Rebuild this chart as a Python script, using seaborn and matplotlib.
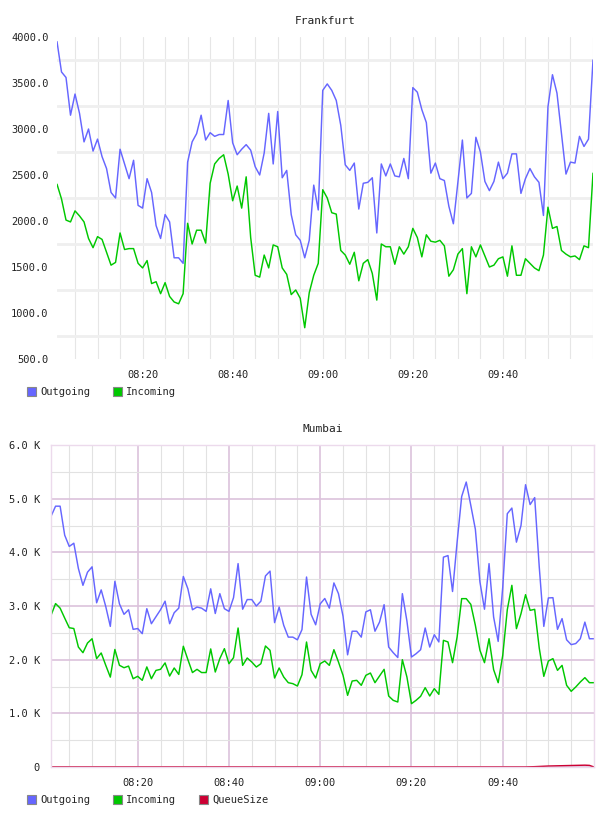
import numpy as np
import pandas as pd
import matplotlib
matplotlib.use("Agg")
import matplotlib.pyplot as plt
import matplotlib.dates as mdates
from matplotlib.patches import Patch
from matplotlib.ticker import FixedLocator, FuncFormatter
import seaborn as sns

# datos (1 punto por minuto, 08:01 - 10:00)
tiempos = pd.date_range("2024-01-01 08:01", periods=120, freq="1min")
etiquetas_x = ["08:20", "08:40", "09:00", "09:20", "09:40"]

fra_outgoing = [
    3950, 3620, 3560, 3150, 3380, 3170, 2860, 3000, 2760, 2890, 2700, 2570, 2310, 2250, 2780,
    2620, 2460, 2660, 2170, 2140, 2460, 2310, 1950, 1810, 2070, 1990, 1600, 1600, 1540, 2640,
    2860, 2950, 3150, 2880, 2960,
    2920, 2940, 2940, 3310, 2850, 2720, 2780, 2830, 2770, 2590, 2500, 2740, 3170, 2620, 3190,
    2470, 2550, 2070, 1850, 1790, 1600, 1790, 2390, 2120, 3420, 3490, 3420, 3310, 3040, 2610,
    2550, 2630, 2130, 2410, 2420, 2470, 1870, 2620, 2490, 2620, 2490, 2480, 2680, 2460,
    3450, 3400, 3210, 3070, 2520, 2630, 2460, 2440, 2160, 1970, 2420, 2880, 2250, 2300, 2910,
    2750, 2430, 2330, 2430, 2640, 2460, 2520, 2730, 2730, 2300, 2460, 2570, 2480, 2420, 2060,
    3240, 3590, 3390, 2950, 2510, 2640, 2630, 2920, 2810, 2890, 3750,
]
fra_incoming = [
    2400, 2240, 2010, 1990, 2110, 2055, 1990, 1810, 1710, 1830, 1800, 1660, 1520, 1550, 1870,
    1690, 1700, 1700, 1540, 1490, 1570, 1320, 1340, 1210, 1330, 1180, 1120, 1100, 1210, 1975,
    1750, 1900, 1900, 1760, 2410,
    2620, 2680, 2720, 2510, 2220, 2380, 2140, 2480, 1820, 1410, 1390, 1630, 1490, 1740, 1720,
    1490, 1420, 1200, 1250, 1160, 840, 1220, 1410, 1540, 2340, 2250, 2090, 2075, 1680, 1630,
    1530, 1660, 1350, 1540, 1580, 1430, 1140, 1750, 1720, 1720, 1530, 1720, 1640, 1720,
    1920, 1820, 1610, 1850, 1780, 1770, 1790, 1730, 1400, 1470, 1640, 1700, 1210, 1720, 1610,
    1740, 1620, 1500, 1520, 1590, 1610, 1400, 1730, 1410, 1410, 1590, 1540, 1490, 1460, 1630,
    2150, 1920, 1940, 1680, 1640, 1610, 1620, 1580, 1730, 1710, 2520,
]

mum_outgoing = [
    4670, 4860, 4860, 4320, 4110, 4170, 3700, 3385, 3630, 3730, 3060, 3300, 2990, 2620, 3460,
    3040, 2845, 2930, 2565, 2580, 2485, 2950, 2670, 2800, 2930, 3090, 2670, 2875, 2960, 3550,
    3320, 2930, 2980, 2960, 2900, 3320,
    2860, 3230, 2950, 2900, 3155, 3790, 2940, 3120, 3120, 3000, 3090, 3560, 3650, 2690, 2980,
    2640, 2420, 2420, 2370, 2560, 3540, 2845, 2650, 3040, 3140, 2960, 3430, 3230, 2810, 2090,
    2530, 2530, 2420, 2890, 2930, 2530, 2700, 3025, 2235, 2130, 2040, 3230, 2720, 2050,
    2110, 2185, 2590, 2235, 2465, 2330, 3910, 3940, 3270, 4190, 5040, 5310, 4875, 4430, 3450,
    2940, 3790, 2795, 2340, 3350, 4720, 4825, 4190, 4500, 5260, 4890, 5020, 3730, 2620, 3150,
    3155, 2565, 2765, 2370, 2280, 2300, 2390, 2700, 2390, 2390,
]
mum_incoming = [
    2825, 3045, 2960, 2775, 2595, 2580, 2235, 2130, 2310, 2390, 2020, 2125, 1895, 1675, 2190,
    1895, 1850, 1880, 1645, 1690, 1615, 1865, 1645, 1800, 1820, 1940, 1695, 1845, 1725, 2250,
    2000, 1760, 1820, 1760, 1760, 2200,
    1770, 2020, 2205, 1925, 2037, 2590, 1894, 2031, 1956, 1863, 1925, 2255, 2174, 1658, 1845,
    1677, 1571, 1553, 1509, 1720, 2329, 1801, 1658, 1925, 1975, 1894, 2186, 1956, 1708, 1335,
    1602, 1615, 1522, 1708, 1751, 1571, 1696, 1820, 1323, 1242, 1211, 2000, 1677, 1180,
    1242, 1317, 1478, 1323, 1460, 1354, 2360, 2330, 1944, 2422, 3137, 3137, 3031, 2640, 2174,
    1944, 2391, 1814, 1571, 2081, 2932, 3385, 2578, 2857, 3211, 2919, 2938, 2217, 1689, 1975,
    2019, 1801, 1894, 1522, 1410, 1491, 1584, 1665, 1571, 1571,
]
mum_queue = [0] * 105 + [3, 6, 10, 14, 18, 20, 22, 24, 26, 28, 30, 32, 34, 30, 0]

colores = {"Outgoing": "#6666ff", "Incoming": "#00c800", "QueueSize": "#cc0033"}

sns.set_theme(style="white")
plt.rcParams["font.family"] = ["DejaVu Sans Mono"]
plt.rcParams["font.size"] = 7.5

fig = plt.figure(figsize=(6.08, 8.16), dpi=100)
ax1 = fig.add_axes([57 / 608, 1 - 359 / 816, 536 / 608, 322 / 816])
ax2 = fig.add_axes([51 / 608, 1 - 767 / 816, 543 / 608, 322 / 816])

df1 = pd.DataFrame({"tiempo": tiempos, "Outgoing": fra_outgoing, "Incoming": fra_incoming})
df1 = df1.melt(id_vars="tiempo", var_name="serie", value_name="valor")
df2 = pd.DataFrame({"tiempo": tiempos, "Outgoing": mum_outgoing,
                    "Incoming": mum_incoming, "QueueSize": mum_queue})
df2 = df2.melt(id_vars="tiempo", var_name="serie", value_name="valor")

marcas_x = [mdates.date2num(pd.Timestamp("2024-01-01 " + e)) for e in etiquetas_x]
# cada 5 minutos, sin repetir las marcas principales
cada5 = pd.date_range("2024-01-01 08:05", "2024-01-01 10:00", freq="5min")
menores_x = [mdates.date2num(t) for t in cada5 if t.strftime("%H:%M") not in etiquetas_x]


def eje_tiempo(ax):
    ax.set_xlim(tiempos[0], tiempos[-1])
    ax.xaxis.set_major_locator(FixedLocator(marcas_x))
    ax.xaxis.set_minor_locator(FixedLocator(menores_x))
    ax.set_xticklabels(etiquetas_x)


# --- Frankfurt
sns.lineplot(data=df1, x="tiempo", y="valor", hue="serie", palette=colores,
             linewidth=1.05, legend=False, ax=ax1)
eje_tiempo(ax1)
ax1.set_ylim(500, 4000)
ax1.set_yticks(np.arange(500, 4001, 500))
ax1.yaxis.set_major_formatter(FuncFormatter(lambda v, p: f"{v:.1f}"))
ax1.yaxis.set_minor_locator(FixedLocator(np.arange(750, 4000, 500)))
ax1.grid(False)
ax1.grid(which="minor", axis="y", color="#efefef", linewidth=2)
ax1.grid(which="both", axis="x", color="#e6e6e6", linewidth=0.8)
for s in ax1.spines.values():
    s.set_visible(False)
ax1.tick_params(which="both", length=0, labelsize=7.5, colors="#222222")
ax1.tick_params(axis="y", pad=6)
ax1.tick_params(axis="x", pad=8)
ax1.set_xlabel("")
ax1.set_ylabel("")
ax1.set_title("Frankfurt", fontsize=8, pad=9, color="#222222")
ax1.set_axisbelow(True)

# --- Mumbai
sns.lineplot(data=df2, x="tiempo", y="valor", hue="serie", palette=colores,
             linewidth=1.05, legend=False, ax=ax2)
eje_tiempo(ax2)
ax2.set_ylim(0, 6000)
ax2.set_yticks(np.arange(0, 6001, 1000))
ax2.yaxis.set_major_formatter(FuncFormatter(lambda v, p: "0" if v == 0 else f"{v / 1000:.1f} K"))
ax2.yaxis.set_minor_locator(FixedLocator(np.arange(500, 6000, 1000)))
ax2.grid(False)
ax2.grid(which="minor", color="#e2e2e2", linewidth=0.8)
ax2.grid(which="major", color="#dcc2dc", linewidth=1.2)
for s in ax2.spines.values():
    s.set_color("#ecdaec")
    s.set_linewidth(1.0)
ax2.tick_params(which="both", length=0, labelsize=7.5, colors="#222222")
ax2.tick_params(axis="y", pad=8)
ax2.tick_params(axis="x", pad=8)
ax2.set_xlabel("")
ax2.set_ylabel("")
ax2.set_title("Mumbai", fontsize=8, pad=9, color="#222222")
ax2.set_axisbelow(True)


# leyendas
def leyenda(nombres, y):
    handles = [Patch(facecolor=colores[n], edgecolor="#888888", linewidth=0.8, label=n)
               for n in nombres]
    fig.legend(handles=handles, loc="center left", bbox_to_anchor=(18 / 608, 1 - y / 816),
               ncol=len(nombres), frameon=False, fontsize=7.5, handlelength=0.85,
               handleheight=0.85, handletextpad=0.4, columnspacing=2.2)


leyenda(["Outgoing", "Incoming"], 392)
leyenda(["Outgoing", "Incoming", "QueueSize"], 800)

fig.savefig("out.png", dpi=100, facecolor="white")
